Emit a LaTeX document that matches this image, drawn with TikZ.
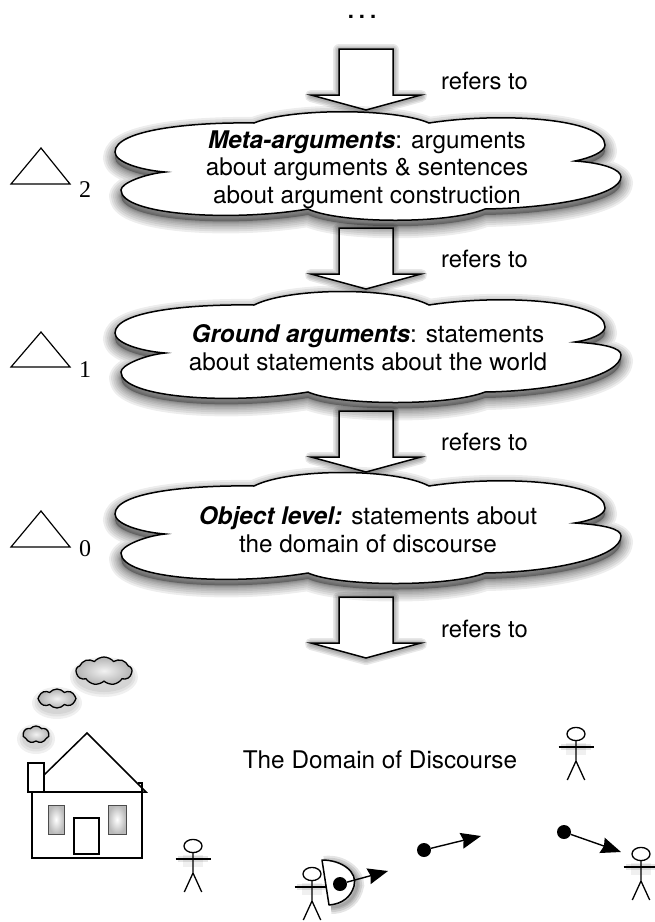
\documentclass[tikz,border=0pt]{standalone}
\usepackage{fontspec}
\setmainfont{TeX Gyre Heros}
\newfontfamily\tmsfont{Liberation Serif}
\usetikzlibrary{arrows.meta,shapes.symbols,shapes.geometric}
\def\cloudA{(254,123) .. controls (290,108) and (395,108) .. (429,123)
 .. controls (500,112) and (605,118) .. (605,145) .. controls (605,152) and (590,158) .. (575,161)
 .. controls (605,163) and (621,170) .. (621,177) .. controls (621,195) and (555,208) .. (485,209)
 .. controls (450,224) and (340,224) .. (308,209)
 .. controls (230,222) and (121,215) .. (121,190) .. controls (121,183) and (145,174) .. (165,172)
 .. controls (140,170) and (115,162) .. (115,152) .. controls (115,130) and (190,122) .. (254,123) -- cycle}
\def\cloudB{(254,305) .. controls (290,287) and (395,287) .. (429,305)
 .. controls (500,294) and (605,300) .. (605,327) .. controls (605,334) and (590,340) .. (575,342)
 .. controls (605,344) and (621,348) .. (621,355) .. controls (621,376) and (555,391) .. (485,392)
 .. controls (450,406) and (340,406) .. (308,392)
 .. controls (230,405) and (121,398) .. (121,372) .. controls (121,365) and (145,355) .. (165,353)
 .. controls (140,351) and (115,343) .. (115,333) .. controls (115,311) and (190,304) .. (254,305) -- cycle}
\def\blockarrowpath{(-27,0) -- (27,0) -- (27,46) -- (55,46) -- (0,61) -- (-55,46) -- (-27,46) -- cycle}
\newcommand{\softshadow}[2]{%
  \begin{scope}[shift={(0,#1)}]
    \foreach \w in {24,20,16,12,9,6,4,2}{\draw[black,opacity=.07,line width=\w pt,line join=round] #2;}
    \fill[black,opacity=.3] #2;
  \end{scope}}
\newcommand{\blockarrow}[1]{%
  \begin{scope}[shift={(366,#1)}]
    \begin{scope}[shift={(0,1)}]
    \foreach \w in {12,9,6,3}{\draw[black,opacity=.09,line width=\w pt,line join=round] \blockarrowpath;}
    \end{scope}
    \filldraw[heavy,fill=white,line join=miter] \blockarrowpath;
  \end{scope}}
\newcommand{\stickman}[2]{%
  \begin{scope}[shift={(#1,#2)}]
    \draw[black,opacity=.10,line width=6pt] (-15,13) -- (15,13);
    \draw[black,opacity=.06,line width=12pt] (-10,15) -- (10,15);
    \draw[thin line] (0,0) ellipse [x radius=9,y radius=6.6];
    \draw[thin line] (-17.5,13) -- (17.5,13);
    \draw[thin line] (0,6.6) -- (0,27) (-8.7,46) -- (0,27) -- (8.7,46);
  \end{scope}}
\tikzset{
  heavy/.style={draw=black,line width=1.5pt},
  thin line/.style={draw=black,line width=1.3pt},
  label text/.style={font=\fontsize{24.3}{27.7}\selectfont,align=center,inner sep=0pt,text=black},
  refer text/.style={font=\fontsize{23.8}{28}\selectfont,inner sep=0pt,anchor=base west},
  index text/.style={font=\fontsize{24}{28}\tmsfont,inner sep=0pt,anchor=base},
  puff/.style={cloud,cloud puffs=9,cloud puff arc=100,aspect=2,draw=black,line width=1.3pt,inner sep=0pt,inner color=gray!10,outer color=gray!60},
  pane/.style={inner color=white,outer color=gray!55},
  dot/.style={circle,fill=black,inner sep=0pt,minimum size=14pt},
  shot/.style={line width=1.4pt,-{Stealth[length=20pt,width=16pt,inset=2pt]}},
}
\begin{document}
\begin{tikzpicture}[x=1pt,y=-1pt]
\useasboundingbox (0,0) rectangle (654,922);
% dots
\node[font=\fontsize{22}{22}\selectfont\bfseries,inner sep=0pt,anchor=base] (dots) at (362,18) {.\hspace{5pt}.\hspace{5pt}.};
% block arrows
\blockarrow{49}
\blockarrow{228}
\blockarrow{411}
\blockarrow{597}
% clouds
\softshadow{6}{\cloudA}
\filldraw[heavy,fill=white] \cloudA;
\softshadow{6}{\cloudB}
\filldraw[heavy,fill=white] \cloudB;
\begin{scope}[shift={(0,181)}]
\softshadow{6}{\cloudB}
\filldraw[heavy,fill=white] \cloudB;
\end{scope}
% cloud texts
\node[label text] (meta) at (367,169.5) {{\bfseries\itshape Meta-arguments}: arguments\\about arguments \& sentences\\about argument construction};
\node[label text] (ground) at (368,348) {{\bfseries\itshape Ground arguments}: statements\\about statements about the world};
\node[label text] (object) at (368,529.5) {{\bfseries\itshape Object level:} statements about\\the domain of discourse};
% refers to
\node[refer text] (r1) at (441,89) {refers to};
\node[refer text] (r2) at (441,267) {refers to};
\node[refer text] (r3) at (441,450) {refers to};
\node[refer text] (r4) at (441,637) {refers to};
% triangles
\foreach \n/\y/\b in {t2/148/184,t1/332/367,t0/511/547}{
  \draw[line width=1.2pt,line join=miter] (41,\y) -- (70,\b) -- (11,\b) -- cycle;
}
\node[index text] (i2) at (85,197) {2};
\node[index text] (i1) at (85,377) {1};
\node[index text] (i0) at (85,556) {0};
% smoke
\foreach \w in {16,11,6}{\fill[black,opacity=.06] (104,677) ellipse [x radius={26+\w/2},y radius={12+\w/2}];}
\foreach \w in {16,11,6}{\fill[black,opacity=.06] (57,703) ellipse [x radius={17+\w/2},y radius={8+\w/2}];}
\foreach \w in {16,11,6}{\fill[black,opacity=.06] (36,739) ellipse [x radius={11+\w/2},y radius={7+\w/2}];}
\node[puff,minimum width=56pt,minimum height=28pt] (s1) at (104,671) {};
\node[puff,minimum width=38pt,minimum height=19pt,cloud puffs=8] (s2) at (57,698.5) {};
\node[puff,minimum width=26pt,minimum height=17pt,cloud puffs=7,aspect=1.5] (s3) at (36,734.5) {};
% house
\draw[heavy,fill=white] (32,792) rectangle (142,858);
\draw[heavy,line join=miter] (138,783) -- (142,783) -- (142,792);
\draw[heavy,line join=miter] (44,775) -- (87,733) -- (146,792) -- (27,792);
\draw[heavy,fill=white] (28,763) rectangle (44,792);
\shade[pane] (48,805) rectangle (64,834);
\draw[draw=black!70,line width=1pt] (48,805) rectangle (64,834);
\shade[pane] (108,805) rectangle (126,834);
\draw[draw=black!70,line width=1pt] (108,805) rectangle (126,834);
\draw[heavy] (74,818) rectangle (99,854);
% text
\node[label text] (domain) at (380,760) {The Domain of Discourse};
% people
\stickman{193}{846}
\stickman{576}{734}
\stickman{641}{854}
\stickman{312}{874}
% shield
\foreach \w in {14,10,6,3}{\draw[black,opacity=.10,line width=\w pt] (324,863) .. controls (345,860) and (362,878) .. (356,890) .. controls (352,902) and (342,907) .. (331,907);}
\filldraw[heavy,fill=white,line join=round] (322,860) .. controls (342,860) and (358,872) .. (354,886) .. controls (351,897) and (342,904) .. (329,905) -- cycle;
% projectiles
\node[dot] (b1) at (340,884) {};
\node[dot] (b2) at (424,850) {};
\node[dot] (b3) at (564,832) {};
\coordinate (e1) at (388,871);
\coordinate (e2) at (481,836);
\coordinate (e3) at (621,852);
\draw[shot] (b1) -- (e1);
\draw[shot] (b2) -- (e2);
\draw[shot] (b3) -- (e3);
\end{tikzpicture}
\end{document}
